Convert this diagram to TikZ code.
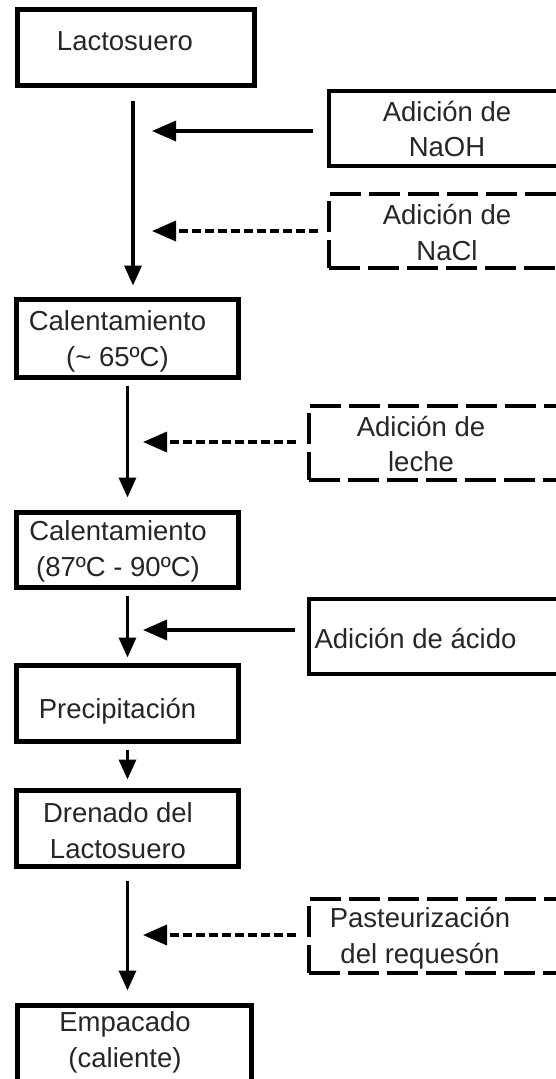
\documentclass[tikz,border=0pt]{standalone}
\usepackage{fontspec}
\setmainfont{Liberation Sans}
\usetikzlibrary{arrows.meta}

\tikzset{
  stepbox/.style={draw, line width=5pt, minimum width=222pt, minimum height=76pt, inner sep=0pt},
  sidebox/.style={draw, line width=3.5pt, minimum width=291pt, minimum height=74pt, inner sep=0pt},
  sidedash/.style={sidebox, line width=4pt, dash pattern=on 31pt off 8pt},
  txt/.style={align=center, inner sep=0pt, text=black!85, font=\fontsize{27.5}{35.5}\selectfont},
  flow/.style={line width=3.5pt, -{Triangle[length=20pt,width=17pt]}},
  feed/.style={line width=3.5pt, -{Triangle[length=24pt,width=20pt]}},
  feeddash/.style={feed, dash pattern=on 9pt off 4pt},
}

\begin{document}
\begin{tikzpicture}[x=1pt, y=-1pt]
    \useasboundingbox (0,0) rectangle (556,1079);
    \clip (0,0) rectangle (556,1079);

    % main steps
    \node[stepbox, minimum width=237pt] (lacto) at (136,47.5) {};
    \node[stepbox, minimum height=78pt] (cal1) at (127.5,338.5) {};
    \node[stepbox, minimum height=75pt] (cal2) at (127.5,550) {};
    \node[stepbox] (prec) at (127.5,703.5) {};
    \node[stepbox] (dren) at (127.5,828.5) {};
    \node[stepbox, minimum width=234pt, minimum height=80pt] (emp) at (134.5,1045.5) {};

    \node[txt] (lactoT) at (125,41) {Lactosuero};
    \node[txt] (cal1T) at (117.5,341.5) {Calentamiento\\(\textasciitilde{} 65ºC)};
    \node[txt] (cal2T) at (118,551.5) {Calentamiento\\(87ºC - 90ºC)};
    \node[txt] (precT) at (117.5,711) {Precipitación};
    \node[txt] (drenT) at (118,830.5) {Drenado del\\Lactosuero};
    \node[txt] (empT) at (125,1042.5) {Empacado\\(caliente)};

    % additions
    \node[sidebox, minimum height=75pt] (naoh) at (474.5,128.5) {};
    \node[sidedash] (nacl) at (474.5,231) {};
    \node[sidedash] (leche) at (454.5,443) {};
    \node[sidebox, minimum height=75pt] (acido) at (454.5,636.5) {};
    \node[sidedash] (past) at (454.5,936) {};

    \node[txt] (naohT) at (447,129) {Adición de\\NaOH};
    \node[txt] (naclT) at (447,232.5) {Adición de\\NaCl};
    \node[txt] (lecheT) at (421,444) {Adición de\\leche};
    \node[txt] (acidoT) at (415.5,639) {Adición de ácido};
    \node[txt] (pastT) at (420,938) {Pasteurización\\del requesón};

    % flow
    \draw[flow, shorten <=12.5pt, shorten >=11.5pt] ([xshift=-3pt]lacto.south) -- ([xshift=-3pt]lacto.south |- cal1.north);
    \draw[flow, shorten <=5.5pt, shorten >=12.5pt] (cal1.south) -- (cal2.north);
    \draw[flow, shorten <=5.5pt, shorten >=5.5pt] (cal2.south) -- (prec.north);
    \draw[flow, shorten <=5.5pt, shorten >=8.5pt] (prec.south) -- (dren.north);
    \draw[flow, shorten <=11.5pt, shorten >=12.5pt] (dren.south) -- (dren.south |- emp.north);

    \coordinate (in1) at (152,131);
    \coordinate (in2) at (152,231);
    \coordinate (in3) at (143,442);
    \coordinate (in4) at (143,630);
    \coordinate (in5) at (143,935);
    \draw[feed, shorten <=14pt] (naoh.west |- in1) -- (in1);
    \draw[feeddash, shorten <=9pt] (nacl.west |- in2) -- (in2);
    \draw[feeddash, shorten <=11pt] (leche.west |- in3) -- (in3);
    \draw[feed, shorten <=12pt] (acido.west |- in4) -- (in4);
    \draw[feeddash, shorten <=11pt] (past.west |- in5) -- (in5);
\end{tikzpicture}
\end{document}
